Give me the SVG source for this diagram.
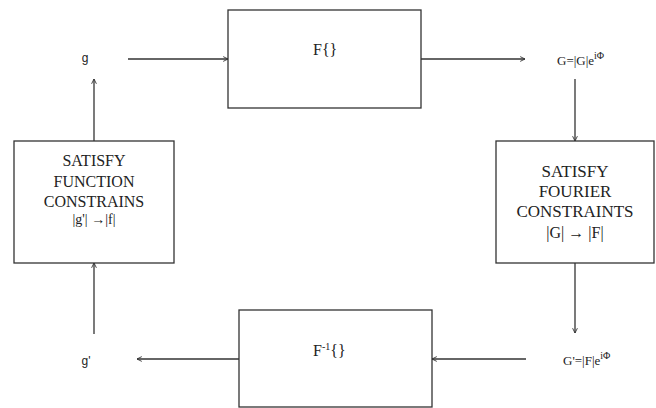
<svg xmlns="http://www.w3.org/2000/svg" width="656" height="408" viewBox="0 0 656 408">
<defs>
<style>
.box{fill:#fff;stroke:#333;stroke-width:1.3}
.c{fill:none;stroke:#333;stroke-width:1.3;marker-end:url(#ah)}
.t{font-family:"Liberation Serif","Times New Roman",serif;fill:#222;font-size:16px;text-anchor:middle}
.t17{font-size:17px}
.t14{font-size:14px}
.m{font-family:"Liberation Serif","Times New Roman",serif;fill:#222;font-size:13px}
.m16{font-size:16px}
.sup{font-size:10px}
.s{font-family:"Liberation Sans",Arial,sans-serif;fill:#222;font-size:12px;text-anchor:middle}
</style>
<marker id="ah" viewBox="0 0 10 10" refX="9" refY="5" markerWidth="6" markerHeight="6" markerUnits="userSpaceOnUse" orient="auto">
<path d="M1,1 L9,5 L1,9" fill="none" stroke="#333" stroke-width="1.5"/>
</marker>
</defs>
<rect width="656" height="408" fill="#fff"/>
<g id="connectors">
<line class="c" x1="128" y1="59" x2="228" y2="59"/>
<line class="c" x1="421" y1="59" x2="525" y2="59"/>
<line class="c" x1="575" y1="79" x2="575" y2="141"/>
<line class="c" x1="575" y1="263" x2="575" y2="333"/>
<line class="c" x1="526" y1="359" x2="432" y2="359"/>
<line class="c" x1="239" y1="359" x2="137" y2="359"/>
<line class="c" x1="94" y1="334" x2="94" y2="263"/>
<line class="c" x1="94" y1="141" x2="94" y2="79"/>
</g>
<g id="g"><text class="s" x="85" y="62">g</text></g>
<g id="fourier">
<rect class="box" x="228" y="10" width="193" height="98"/>
<text class="m m16" x="313" y="55">F{}</text>
</g>
<g id="G"><text class="m" x="557" y="65">G=|G|e<tspan class="sup" dy="-6">iΦ</tspan></text></g>
<g id="fourierConstraints">
<rect class="box" x="496" y="141" width="158" height="122"/>
<text class="t t17" x="575" y="177">SATISFY</text>
<text class="t t17" x="575" y="197">FOURIER</text>
<text class="t t17" x="575" y="217">CONSTRAINTS</text>
<text class="t" x="575" y="238">|G| → |F|</text>
</g>
<g id="Gprime"><text class="m" x="563" y="365">G'=|F|e<tspan class="sup" dy="-6">iΦ</tspan></text></g>
<g id="inverse">
<rect class="box" x="239" y="310" width="193" height="97"/>
<text class="m m16" x="313" y="356">F<tspan class="sup" dy="-6">-1</tspan><tspan dy="6">{}</tspan></text>
</g>
<g id="gprime"><text class="s" x="86" y="365">g'</text></g>
<g id="functionConstraints">
<rect class="box" x="14" y="141" width="160" height="122"/>
<text class="t" x="94" y="166">SATISFY</text>
<text class="t" x="94" y="186.5">FUNCTION</text>
<text class="t" x="94" y="207">CONSTRAINS</text>
<text class="t t14" x="94" y="224">|g'| →|f|</text>
</g>
</svg>
